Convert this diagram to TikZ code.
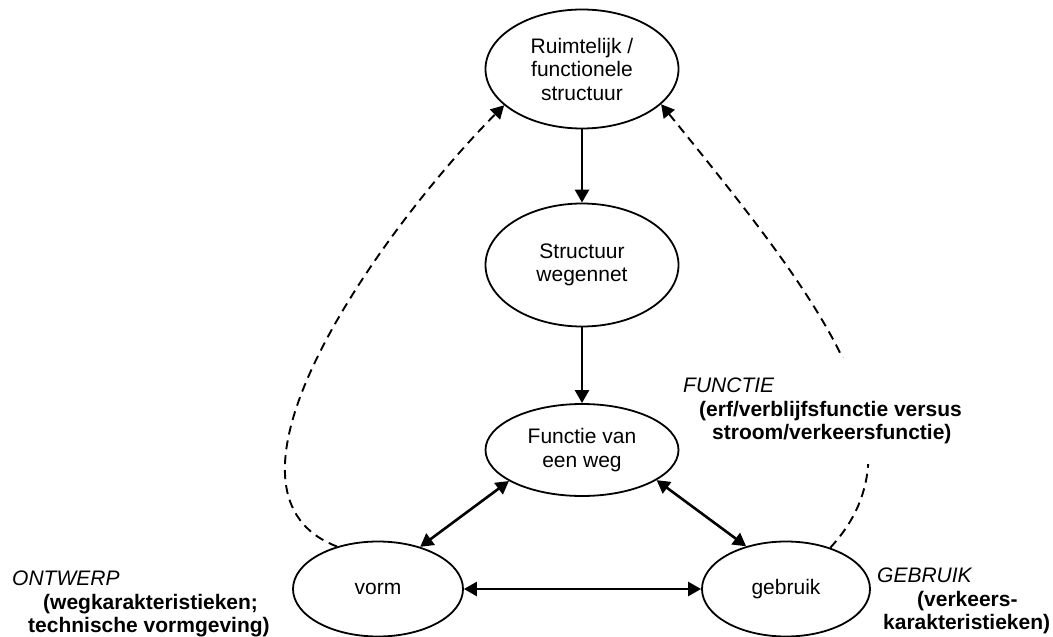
\documentclass[tikz,border=0pt]{standalone}
\usepackage{fontspec}
\setmainfont{Liberation Sans}
\usetikzlibrary{
  arrows.meta,
  shapes.geometric,
  positioning
}

\begin{document}
\begin{tikzpicture}[
      x=1pt,y=-1pt,
      every node/.style={font=\fontsize{21pt}{23.5pt}\selectfont},
      ellipsebox/.style={
         ellipse,
         draw=black,
         line width=1.8pt,
         inner sep=0pt,
         align=center,
         minimum width=193pt,
         minimum height=#1
      },
      note/.style={
         align=left,
         anchor=north west,
         inner xsep=0pt,
         inner ysep=0pt
      },
      flow/.style={-{Triangle[length=13pt,width=14pt]},line width=2.6pt},
      twoway/.style={{Triangle[length=13pt,width=14pt]}-{Triangle[length=13pt,width=14pt]},line width=2.6pt},
      feedback/.style={-{Triangle[length=13pt,width=14pt]},line width=1.9pt,dash pattern=on 9pt off 6pt}
    ]
    \useasboundingbox (0,0) rectangle (1053,637);

    % ellipses
    \node (ruimte) [ellipsebox=119pt] at (582,69) {Ruimtelijk /\\functionele\\structuur};
    \node (wegennet) [ellipsebox=123pt] at (582,265) {Structuur\\wegennet};
    \node (functie) [ellipsebox=92pt] at (582,450) {Functie van\\een weg};
    \node (vorm) [ellipsebox=95pt, minimum width=170pt] at (378,589) {vorm};
    \node (gebruik) [ellipsebox=95pt, minimum width=168pt] at (786,589) {gebruik};

    % main arrows
    \draw[flow] (ruimte) -- (wegennet);
    \draw[flow] (wegennet) -- (functie);
    \draw[twoway] (functie.203) -- (vorm.45);
    \draw[twoway] (functie.338) -- (gebruik.133);
    \draw[twoway] (vorm) -- (gebruik);

    % feedback to the top
    \draw[feedback] (vorm.134) .. controls (190,490) and (390,220) .. (ruimte.205);
    \draw[feedback] (gebruik.43) .. controls (930,440) and (820,300) .. (ruimte.336);

    % labels
    \node (functieTxt) [note, fill=white, inner ysep=20pt] at (683,358)
       {\textit{FUNCTIE}\\
        \hspace*{16pt}\textbf{(erf/verblijfsfunctie versus}\\
        \hspace*{29pt}\textbf{stroom/verkeersfunctie)}};
    \node (ontwerpTxt) [note] at (12,571)
       {\textit{ONTWERP}\\
        \hspace*{31pt}\textbf{(wegkarakteristieken;}\\
        \hspace*{16pt}\textbf{technische vormgeving)}};
    \node (gebruikTxt) [note] at (877,568)
       {\textit{GEBRUIK}\\
        \hspace*{40pt}\textbf{(verkeers-}\\
        \hspace*{6pt}\textbf{karakteristieken)}};
\end{tikzpicture}
\end{document}
